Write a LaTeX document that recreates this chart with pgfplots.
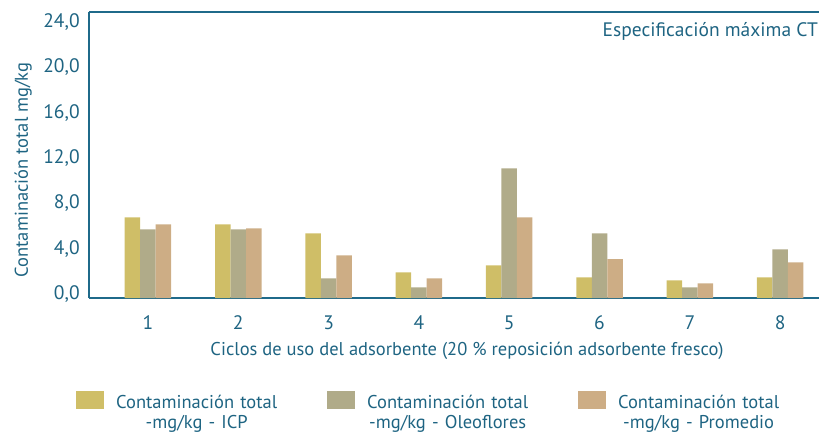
\documentclass[border=0pt]{standalone}
\usepackage{fontspec}
\setmainfont{PT Sans}
\usepackage{pgfplots}
\pgfplotsset{compat=1.18}
\definecolor{txt}{HTML}{1E6482}
\definecolor{axl}{HTML}{1F6A8A}
\definecolor{cicp}{HTML}{CFBE67}
\definecolor{coleo}{HTML}{B0AB89}
\definecolor{cprom}{HTML}{CDAD85}
\begin{document}
\fontsize{18.5bp}{22bp}\selectfont
\begin{tikzpicture}
\begin{axis}[
    scale only axis,
    width=730bp, height=286bp,
    ybar=0pt, bar width=15.5bp,
    xmin=0.347, xmax=8.43,
    ymin=0, ymax=25.24,
    xtick={1,...,8},
    xticklabels={1,2,3,4,5,6,7,8},
    ytick={0,4,...,24},
    major tick length=0pt,
    axis x line*=bottom, axis y line*=left,
    axis line style={axl, line width=1.3bp, -},
    /pgf/number format/fixed,
    /pgf/number format/fixed zerofill,
    /pgf/number format/precision=1,
    /pgf/number format/use comma,
    /pgf/number format/assume math mode=true,
    tick label style={font=\fontsize{19.5bp}{22bp}\selectfont, text=txt},
    yticklabel style={xshift=-3bp, yshift=4bp},
    xticklabel style={yshift=-11bp},
    xlabel={Ciclos de uso del adsorbente (20 \% reposición adsorbente fresco)},
    ylabel={Contaminación total mg/kg},
    label style={font=\fontsize{18.5bp}{22bp}\selectfont, text=txt},
    xlabel style={at={(axis description cs:0.5,0)}, anchor=center, xshift=13bp, yshift=-53bp},
    ylabel style={at={(axis description cs:-0.09,0.448)}, anchor=center, rotate=0},
    legend columns=3,
    legend style={at={(axis description cs:0,0)}, anchor=north west, xshift=-13bp, yshift=-90bp,
        draw=none, fill=none, inner sep=0pt,
        font=\fontsize{18.5bp}{19.5bp}\selectfont, text=txt,
        cells={align=center, anchor=north, text width=165bp},
        /tikz/every odd column/.append style={column sep=8bp},
        /tikz/every even column/.append style={column sep=46bp}},
    legend image code/.code={\path (0bp,5bp); \fill[#1] (0bp,-16bp) rectangle (28bp,2bp);},
]
\addplot[fill=cicp, draw=none] coordinates {(1,7.12) (2,6.50) (3,5.71) (4,2.27) (5,2.89) (6,1.83) (7,1.56) (8,1.83)};
\addlegendentry{Contaminación total\\-mg/kg - ICP}
\addplot[fill=coleo, draw=none] coordinates {(1,6.06) (2,6.06) (3,1.74) (4,0.94) (5,11.45) (6,5.71) (7,0.94) (8,4.30)};
\addlegendentry{Contaminación total\\-mg/kg - Oleoflores}
\addplot[fill=cprom, draw=none] coordinates {(1,6.50) (2,6.15) (3,3.77) (4,1.74) (5,7.12) (6,3.42) (7,1.30) (8,3.15)};
\addlegendentry{Contaminación total\\-mg/kg - Promedio}
\draw[axl, line width=1.3bp] (rel axis cs:0,1) -- (rel axis cs:1,1);
\node[anchor=east, text=txt, inner sep=0pt, font=\fontsize{19.5bp}{22bp}\selectfont] at ([yshift=-19bp, xshift=-1bp]rel axis cs:1,1) {Especificación máxima CT};
\end{axis}
\pgfresetboundingbox
\path[use as bounding box] (-89bp,-135bp) rectangle (730bp,298bp);
\end{tikzpicture}
\end{document}
